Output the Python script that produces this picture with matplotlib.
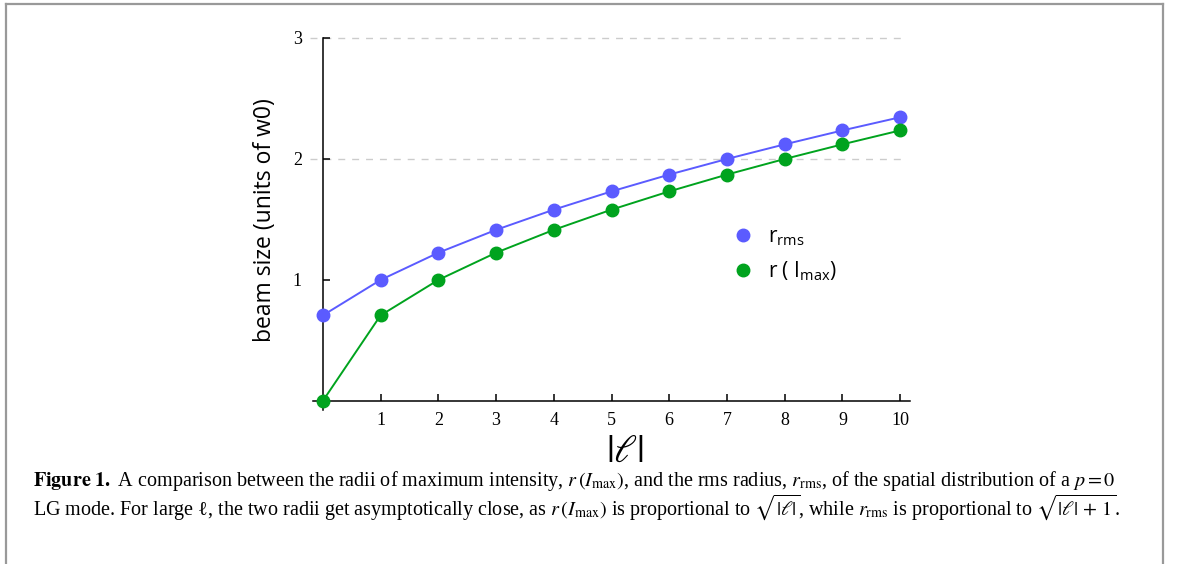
import numpy as np
import matplotlib
matplotlib.use('Agg')
import matplotlib.pyplot as plt
from matplotlib.lines import Line2D

plt.rcParams['mathtext.fontset'] = 'custom'
plt.rcParams['mathtext.sf'] = 'Open Sans'
plt.rcParams['mathtext.rm'] = 'Open Sans'

# data
ell = [0, 1, 2, 3, 4, 5, 6, 7, 8, 9, 10]
r_rms = [0.707, 1.0, 1.225, 1.414, 1.581, 1.732, 1.871, 2.0, 2.121, 2.236, 2.345]
r_imax = [0.0, 0.707, 1.0, 1.225, 1.414, 1.581, 1.732, 1.871, 2.0, 2.121, 2.236]
xticks = [1, 2, 3, 4, 5, 6, 7, 8, 9, 10]
yticks = [1, 2, 3]
grid_y = [2, 3]

blue = '#5b5bff'
green = '#00a31e'

W, H = 1179, 564
fig = plt.figure(figsize=(W / 100, H / 100), dpi=100)

# axes placed in pixels
left_px, right_px, top_px, bot_px = 313, 910, 38, 410
ax = fig.add_axes([left_px / W, 1 - bot_px / H, (right_px - left_px) / W, (bot_px - top_px) / H])
ax.set_xlim(-0.17, 10.17)
ax.set_ylim(-0.075, 3.0)

ax.hlines(grid_y, -0.23, 10.09, colors='#cccccc', linestyles=(0, (5, 5)), lw=1, clip_on=False, zorder=0)

ax.plot(ell, r_rms, '-o', color=blue, lw=1.4, ms=9, clip_on=False, zorder=3)
ax.plot(ell, r_imax, '-o', color=green, lw=1.4, ms=9, clip_on=False, zorder=3)

for s in ['top', 'right']:
    ax.spines[s].set_visible(False)
ax.spines['left'].set_position(('data', 0))
ax.spines['bottom'].set_position(('data', 0))
ax.spines['left'].set_bounds(-0.075, 3.0)
ax.spines['bottom'].set_bounds(-0.17, 10.17)
ax.spines['left'].set_linewidth(1.1)
ax.spines['bottom'].set_linewidth(1.1)

ax.set_xticks(xticks)
ax.set_yticks(yticks)
ax.tick_params(axis='both', direction='in', length=5, width=1.1, labelsize=13)
ax.tick_params(axis='y', pad=15)
ax.tick_params(axis='x', pad=8)
for lab in ax.get_xticklabels() + ax.get_yticklabels():
    lab.set_fontfamily('Liberation Serif')

fig.text(625 / W, 1 - 451 / H, r'$|\ell|$', fontsize=28, math_fontfamily='stix',
         ha='center', va='center')
fig.text(265 / W, 1 - 220 / H, 'beam size (units of w0)', fontsize=16.5, family='Open Sans',
         rotation=90, ha='center', va='center')

handles = [Line2D([], [], marker='o', ls='none', color=blue, ms=9),
           Line2D([], [], marker='o', ls='none', color=green, ms=9)]
labels = [r'r$_{\mathsf{rms}}$', r'r ( I$_{\mathsf{max}}$)']
ax.legend(handles, labels, loc='center left', bbox_to_anchor=(722 / W, 1 - 255 / H),
          bbox_transform=fig.transFigure, frameon=False, handlelength=1.0, handletextpad=0.7,
          labelspacing=0.55, prop={'family': 'Open Sans', 'size': 15}, borderpad=0)

cap1 = (r'$\mathbf{Figure\ 1.}$ A comparison between the radii of maximum intensity, '
        r'$r\,(I_{\rm max})$, and the rms radius, $r_{\rm rms}$, of the spatial distribution of a $p = 0$')
cap2 = (r'LG mode. For large ℓ, the two radii get asymptotically close, as $r\,(I_{\rm max})$ '
        r'is proportional to $\sqrt{|\ell|}$, while $r_{\rm rms}$ is proportional to $\sqrt{|\ell|\,+\,1}$.')
fig.text(33 / W, 1 - 481 / H, cap1, fontsize=14.5, family=['Liberation Serif', 'DejaVu Serif'],
         math_fontfamily='stix', ha='left', va='center')
fig.text(33 / W, 1 - 507 / H, cap2, fontsize=14.5, family=['Liberation Serif', 'DejaVu Serif'],
         math_fontfamily='stix', ha='left', va='center')

# frame around the figure
bc = '#999999'
fig.add_artist(Line2D([6 / W, 6 / W], [0, 1 - 4 / H], color=bc, lw=1.6, transform=fig.transFigure))
fig.add_artist(Line2D([6 / W, 1163 / W], [1 - 4 / H, 1 - 4 / H], color=bc, lw=1.6, transform=fig.transFigure))
fig.add_artist(Line2D([1163 / W, 1163 / W], [0, 1 - 4 / H], color=bc, lw=1.6, transform=fig.transFigure))

fig.savefig('out.png', dpi=100)
